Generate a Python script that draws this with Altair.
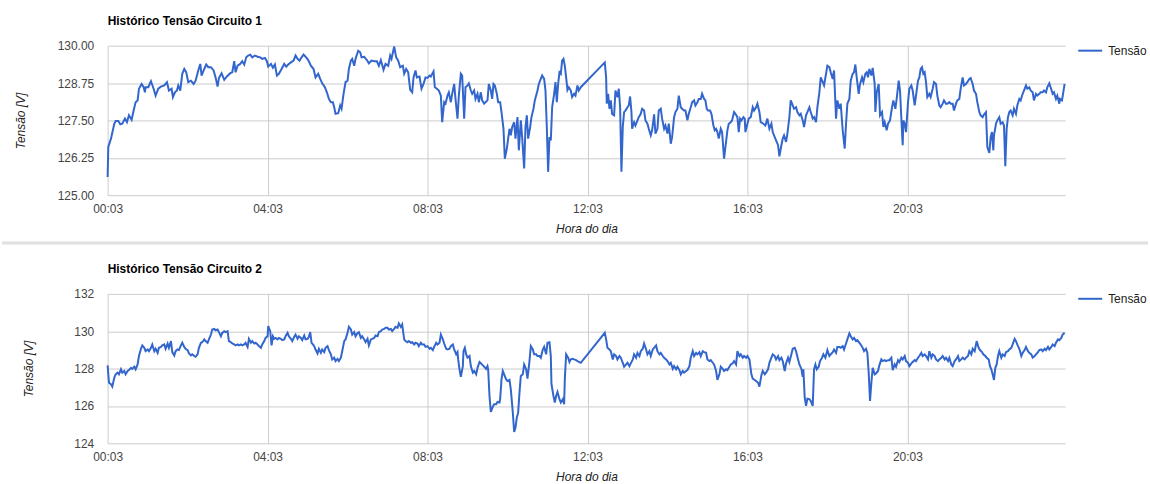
import altair as alt
import pandas as pd

# Minutes since midnight and measured voltage, circuit 1
HORA_C1 = [
    3, 4, 8, 13, 15, 19, 22, 25, 29, 32, 35, 39, 42, 45, 48, 50, 54, 57, 59, 60,
    64, 68, 72, 75, 79, 83, 88, 92, 95, 99, 101, 104, 107, 109, 112, 115, 118, 121, 124, 128,
    132, 135, 139, 142, 144, 148, 151, 154, 158, 162, 165, 168, 170, 174, 178, 182, 187, 190, 193, 195,
    198, 202, 205, 208, 211, 214, 217, 220, 224, 228, 232, 235, 239, 242, 244, 248, 251, 254, 257, 260,
    264, 268, 271, 274, 278, 282, 285, 288, 291, 294, 297, 300, 304, 308, 312, 315, 319, 322, 325, 329,
    332, 335, 338, 341, 343, 345, 349, 352, 354, 357, 360, 363, 365, 368, 370, 373, 375, 379, 382, 384,
    388, 392, 395, 399, 403, 407, 410, 413, 417, 420, 424, 427, 429, 433, 436, 439, 442, 446, 448, 451,
    454, 457, 460, 462, 465, 467, 471, 474, 477, 480,
    483, 486, 488, 492, 494, 497, 500, 503, 505, 508, 510, 513, 515, 518, 520, 523, 525, 528, 530, 533,
    535, 538, 540, 543, 545, 548, 550, 553, 555, 558, 560, 563, 565, 568, 570, 573, 575, 578, 580, 582,
    584, 587, 589, 592, 594, 597, 599, 602, 604, 606, 608, 610, 613, 615, 618, 620, 623, 625, 628, 630,
    632, 634, 637, 639, 642, 644, 646, 648, 650, 653, 655, 658, 660, 662, 664, 666, 668, 670, 673, 675,
    677, 679, 681, 683, 685, 687, 689, 691, 693, 695, 698, 700, 703, 705, 708, 710, 713,
    749, 751, 752, 754, 756, 758, 760, 763, 765, 768, 770, 772, 774, 776, 778, 780, 783, 785, 787, 789,
    790, 793, 795, 798, 800, 803, 805, 808, 810, 813, 815, 818, 820, 823, 825, 828, 830, 833, 835, 838,
    840, 843, 845, 848, 850, 853, 855, 858, 860, 863, 865, 868, 870, 873, 875, 878, 880, 883, 885, 888,
    890, 893, 895, 898, 900, 902, 904, 907, 909, 912, 914, 916, 918, 920, 923, 925, 928, 930, 933, 935,
    938, 940, 943, 945, 948, 950, 952, 954, 957, 959, 960, 963, 965, 968,
    971, 973, 976, 978, 981, 983, 987, 990, 993, 996, 999, 1001, 1004, 1006, 1009, 1011, 1014, 1016, 1018, 1021,
    1023, 1026, 1028, 1031, 1033, 1036, 1038, 1041, 1043, 1046, 1048, 1051, 1053, 1056, 1058, 1061, 1063, 1066, 1068, 1071,
    1073, 1076, 1078, 1081, 1083, 1086, 1088, 1091, 1093, 1096, 1098, 1101, 1103, 1106, 1109, 1111, 1113, 1116, 1118, 1121,
    1123, 1125, 1127, 1130, 1132, 1135, 1137, 1140, 1142, 1144, 1146, 1149, 1151, 1154, 1155, 1157, 1160, 1162, 1165, 1167,
    1169, 1172, 1174, 1177, 1180, 1182, 1185, 1187, 1190, 1192, 1194, 1196, 1197, 1199, 1201, 1204, 1206, 1209, 1211, 1214,
    1216, 1219, 1221, 1223, 1225, 1227, 1229, 1231, 1233, 1236, 1238, 1241, 1243, 1246, 1248, 1251, 1253, 1256, 1258, 1261,
    1263, 1266, 1268, 1271, 1273, 1276, 1278, 1281, 1283, 1286, 1288, 1291, 1293, 1296, 1298, 1301, 1303, 1306, 1308, 1311,
    1313, 1316, 1318, 1321, 1323, 1326, 1328, 1330, 1332, 1333, 1336, 1338, 1341, 1343, 1346, 1348, 1350, 1352, 1354, 1356,
    1358, 1361, 1363, 1366, 1368, 1371, 1373, 1376, 1378, 1381, 1383, 1386, 1388, 1391, 1393, 1396, 1398, 1401, 1403, 1406,
    1408, 1411, 1413, 1416, 1418, 1421, 1423, 1426, 1428, 1431, 1432, 1435, 1437, 1439,
]
TENSAO_C1 = [
    125.61, 126.61, 126.89, 127.39, 127.48, 127.48, 127.37, 127.39, 127.56, 127.44, 127.67, 127.52, 127.83, 128.11, 128.17, 128.56, 128.72, 128.61, 128.44, 128.61,
    128.61, 128.81, 128.56, 128.33, 128.56, 128.63, 128.67, 128.78, 128.50, 128.56, 128.28, 128.44, 128.50, 128.67, 128.50, 129.06, 129.22, 129.11, 128.78, 128.83,
    128.72, 128.83, 129.17, 129.39, 129.00, 129.22, 129.37, 129.28, 129.28, 129.17, 128.94, 128.63, 128.92, 129.08, 128.86, 128.97, 129.08, 129.11, 129.48, 129.11,
    129.33, 129.39, 129.48, 129.37, 129.61, 129.67, 129.70, 129.61, 129.67, 129.63, 129.61, 129.56, 129.59, 129.48, 129.30, 129.39, 129.26, 129.37, 129.00, 129.06,
    129.22, 129.39, 129.30, 129.37, 129.44, 129.50, 129.67, 129.56, 129.50, 129.61, 129.70, 129.63, 129.52, 129.33, 129.22, 128.94, 129.06, 128.89, 128.74, 128.61,
    128.44, 128.22, 128.11, 128.11, 127.94, 127.72, 127.74, 128.00, 127.89, 128.39, 128.78, 128.83, 129.22, 129.50, 129.56, 129.33, 129.56, 129.83, 129.78, 129.61,
    129.63, 129.52, 129.41, 129.50, 129.48, 129.48, 129.33, 129.52, 129.19, 129.39, 129.33, 129.67, 129.56, 129.97, 129.61, 129.50, 129.28, 129.33, 129.06, 129.22,
    129.11, 128.52, 128.44, 128.94, 129.17, 128.94, 128.97, 128.56, 128.72, 128.94,
    128.92, 129.00, 128.97, 129.14, 128.61, 128.56, 128.50, 128.33, 127.44, 128.11, 128.06, 128.33, 128.44, 128.11, 128.39, 128.72, 128.22, 127.56, 128.33, 129.06,
    129.00, 127.56, 128.61, 128.67, 128.74, 128.50, 128.39, 128.50, 128.22, 128.39, 128.11, 128.44, 128.17, 128.06, 128.11, 128.17, 128.72, 128.50, 128.22, 128.72,
    128.67, 128.39, 128.11, 128.11, 127.78, 127.22, 126.22, 126.56, 126.89, 127.22, 127.00, 127.28, 127.44, 126.89, 127.61, 126.50, 127.50, 126.94, 125.89, 127.28,
    127.67, 126.89, 127.28, 127.61, 127.89, 128.17, 128.33, 128.50, 128.72, 128.89, 129.00, 128.89, 128.50, 127.28, 125.78, 126.94, 126.83, 127.94, 128.39, 128.78,
    128.11, 128.72, 129.11, 129.06, 129.50, 129.56, 129.33, 128.94, 128.52, 128.61, 128.50, 128.28, 128.39, 128.33, 128.67, 128.50, 128.61,
    129.44, 128.94, 128.06, 128.39, 127.89, 128.17, 127.72, 127.67, 128.50, 128.28, 128.56, 127.94, 125.78, 127.28, 127.78, 127.83, 127.94, 128.00, 128.30, 127.78,
    127.22, 127.44, 127.33, 127.50, 127.61, 127.72, 127.89, 127.83, 127.50, 127.39, 127.22, 127.00, 127.17, 127.70, 127.06, 127.22, 127.83, 127.89, 127.56, 127.22,
    127.33, 127.06, 127.39, 126.72, 126.94, 127.61, 127.78, 127.89, 128.33, 127.94, 127.89, 127.83, 127.83, 127.50, 127.72, 127.94, 128.11, 128.17, 128.00, 128.11,
    128.22, 128.22, 128.39, 128.22, 128.17, 127.89, 127.83, 127.83, 127.72, 127.33, 127.17, 127.22, 127.11, 126.89, 127.22, 127.11, 126.22, 126.61, 127.17, 127.39,
    127.44, 127.50, 127.78, 127.72, 127.61, 127.11, 127.56, 127.50, 127.61, 127.56, 127.11, 127.39, 127.56, 127.61,
    127.94, 127.83, 127.94, 128.06, 127.78, 127.44, 127.39, 127.33, 127.56, 127.22, 127.39, 127.11, 126.94, 126.83, 126.67, 126.30, 126.67, 126.89, 127.00, 126.78,
    127.06, 127.61, 128.17, 128.00, 127.89, 127.94, 127.78, 127.67, 127.72, 127.50, 127.28, 127.67, 127.78, 127.94, 127.78, 127.56, 127.61, 127.44, 127.94, 128.44,
    128.94, 128.78, 128.67, 129.06, 129.33, 129.28, 129.11, 128.89, 129.17, 127.56, 128.17, 127.89, 128.06, 127.17, 126.56, 127.39, 128.06, 128.22, 128.83, 129.06,
    129.11, 129.37, 128.94, 128.39, 128.72, 128.94, 128.78, 129.06, 129.11, 128.94, 129.22, 129.00, 129.26, 128.72, 127.78, 128.44, 128.72, 127.67, 127.78, 127.28,
    127.44, 127.17, 127.39, 127.50, 127.94, 128.17, 127.89, 128.22, 128.83, 128.50, 127.56, 126.67, 127.50, 127.39, 127.11, 128.11, 128.56, 128.67, 128.50, 128.00,
    128.33, 128.83, 128.94, 129.22, 129.28, 129.06, 129.11, 128.78, 128.28, 128.39, 128.28, 128.56, 128.78, 128.72, 128.33, 128.00, 127.94, 128.06, 128.17, 128.06,
    128.06, 128.11, 128.06, 128.06, 127.83, 128.06, 128.17, 128.22, 128.56, 128.94, 128.67, 128.72, 128.78, 128.89, 128.92, 128.72, 128.50, 128.39, 128.11, 127.78,
    127.67, 127.61, 127.70, 127.78, 126.61, 126.41, 126.94, 127.11, 126.50, 127.00, 127.39, 127.50, 127.61, 127.39, 127.44, 127.33, 125.97, 127.22, 127.61, 127.78,
    127.83, 127.67, 127.89, 127.72, 128.00, 128.22, 128.17, 128.39, 128.50, 128.67, 128.56, 128.61, 128.50, 128.44, 128.17, 128.39, 128.33, 128.39, 128.44, 128.44,
    128.50, 128.44, 128.61, 128.74, 128.61, 128.39, 128.44, 128.22, 128.33, 128.06, 128.22, 128.17, 128.44, 128.72,
]

# Minutes since midnight and measured voltage, circuit 2
HORA_C2 = [
    3, 5, 8, 10, 13, 15, 18, 20, 23, 25, 28, 30, 33, 35, 38, 40, 43, 45, 48, 50,
    53, 55, 58, 60, 63, 65, 68, 70, 73, 75, 78, 80, 83, 85, 88, 90, 93, 95, 98, 100,
    103, 105, 108, 110, 113, 115, 118, 120, 123, 125, 128, 130, 133, 135, 138, 140, 143, 145, 148, 150,
    153, 155, 158, 160, 163, 165, 168, 170, 173, 175, 178, 180, 183, 185, 188, 190, 193, 195, 198, 200,
    203, 205, 208, 210, 213, 215, 218, 220, 223, 225, 228, 230, 233, 235, 238, 240, 243, 244, 247, 249,
    251, 253, 255, 258, 260, 263, 265, 268, 270, 273, 275, 278, 280, 283, 285, 288, 290, 293, 295, 298,
    300, 303, 305, 307, 309, 311, 313, 315, 318, 320, 323, 325, 328, 330, 333, 335, 338, 340, 343, 345,
    348, 350, 353, 355, 358, 360, 363, 365, 368, 370, 373, 375, 378, 380, 383, 385, 388, 390, 393, 395,
    398, 400, 403, 405, 408, 410, 413, 415, 418, 420, 423, 425, 428, 430, 433, 435, 438, 440, 443, 445,
    448, 450, 453, 455, 458, 460, 463, 465, 468, 470, 473, 475, 478, 480,
    483, 486, 488, 491, 493, 496, 498, 501, 503, 506, 508, 511, 513, 516, 518, 521, 523, 526, 528, 529,
    531, 533, 536, 537, 539, 541, 543, 546, 548, 551, 553, 556, 558, 561, 563, 566, 568, 571, 573, 574,
    576, 578, 581, 583, 586, 588, 591, 592, 594, 596, 598, 601, 603, 606, 608, 611, 613, 615, 617, 619,
    621, 623, 626, 628, 631, 633, 636, 638, 641, 643, 646, 648, 651, 653, 656, 658, 661, 663, 666, 668,
    669, 672, 674, 676, 678, 681, 683, 686, 688, 689, 691, 694, 696, 698, 701, 703, 706, 708, 711, 713,
    749, 751, 753, 756, 758, 761, 763, 766, 768, 771, 773, 776, 778, 781, 783, 786, 788, 791, 793, 796,
    798, 801, 803, 806, 808, 811, 813, 816, 818, 821, 823, 826, 828, 831, 833, 836, 838, 841, 843, 846,
    848, 851, 853, 856, 858, 861, 863, 866, 868, 871, 873, 876, 878, 881, 883, 886, 888, 891, 893, 896,
    898, 901, 903, 906, 908, 911, 913, 916, 918, 921, 923, 926, 928, 931, 933, 936, 938, 941, 943, 946,
    948, 951, 953, 956, 958, 961, 963, 966, 969,
    971, 974, 976, 979, 981, 984, 986, 989, 991, 994, 996, 999, 1001, 1004, 1006, 1009, 1011, 1014, 1016, 1019,
    1021, 1024, 1026, 1029, 1031, 1034, 1036, 1039, 1041, 1044, 1046, 1047, 1049, 1051, 1053, 1056, 1058, 1061, 1063, 1065,
    1067, 1070, 1072, 1075, 1077, 1080, 1082, 1083, 1086, 1088, 1091, 1093, 1096, 1098, 1101, 1103, 1106, 1108, 1111, 1113,
    1116, 1118, 1121, 1123, 1126, 1128, 1131, 1133, 1136, 1138, 1141, 1143, 1145, 1147, 1149, 1151, 1154, 1156, 1159, 1161,
    1164, 1166, 1169, 1171, 1174, 1176, 1179, 1181, 1184, 1186, 1189, 1191, 1194, 1196, 1199, 1201, 1204, 1206, 1209, 1211,
    1214, 1216, 1219, 1221, 1224, 1226, 1229, 1231, 1234, 1236, 1239, 1241, 1244, 1246, 1249, 1251, 1254, 1256, 1259, 1261,
    1264, 1266, 1269, 1271, 1274, 1276, 1279, 1281, 1284, 1286, 1289, 1291, 1294, 1296, 1299, 1301, 1304, 1306, 1307, 1310,
    1312, 1315, 1317, 1320, 1322, 1325, 1327, 1329, 1331, 1333, 1335, 1337, 1339, 1341, 1344, 1346, 1349, 1351, 1354, 1356,
    1359, 1361, 1364, 1366, 1369, 1371, 1374, 1376, 1379, 1381, 1384, 1386, 1389, 1391, 1394, 1396, 1399, 1401, 1404, 1406,
    1409, 1411, 1414, 1416, 1419, 1421, 1424, 1426, 1429, 1431, 1434, 1436, 1439,
]
TENSAO_C2 = [
    128.17, 127.24, 127.16, 127.04, 127.51, 127.69, 127.78, 127.69, 127.96, 127.78, 127.87, 127.69, 127.87, 127.92, 128.04, 127.98, 128.10, 127.96, 128.22, 128.67,
    129.06, 129.24, 129.11, 128.93, 129.02, 128.93, 129.11, 129.29, 128.93, 129.06, 128.84, 129.11, 129.16, 129.24, 129.29, 129.06, 129.34, 129.11, 129.47, 128.88,
    128.70, 128.93, 129.02, 128.99, 129.24, 129.38, 129.16, 129.06, 128.99, 128.81, 128.70, 128.76, 128.67, 128.63, 128.76, 129.11, 129.38, 129.41, 129.56, 129.47,
    129.38, 129.56, 129.82, 130.09, 130.12, 130.05, 130.09, 129.95, 129.73, 129.91, 130.00, 129.95, 130.00, 129.47, 129.41, 129.34, 129.29, 129.24, 129.29, 129.24,
    129.29, 129.24, 129.29, 129.38, 129.16, 129.59, 129.38, 129.47, 129.34, 129.38, 129.29, 129.20, 129.11, 129.29, 129.47, 129.64, 129.73, 130.27, 130.00, 129.24,
    129.73, 129.59, 129.64, 129.56, 129.64, 129.59, 129.52, 129.56, 129.73, 129.91, 129.73, 129.59, 129.47, 129.70, 129.82, 129.59, 129.73, 129.64, 129.52, 129.77,
    129.56, 129.59, 129.70, 129.95, 129.38, 129.29, 129.20, 129.02, 128.81, 129.06, 128.84, 129.02, 128.88, 129.11, 129.20, 128.99, 128.76, 128.49, 128.58, 128.40,
    128.52, 128.40, 128.58, 128.93, 129.47, 129.56, 129.91, 130.23, 130.09, 129.82, 129.95, 129.73, 129.91, 129.95, 129.64, 129.73, 129.56, 129.41, 129.59, 129.24,
    129.56, 129.59, 129.64, 129.77, 129.73, 129.95, 130.00, 130.09, 130.12, 130.18, 130.18, 130.09, 130.12, 130.00, 130.12, 130.23, 130.18, 130.41, 130.23, 130.36,
    129.56, 129.47, 129.41, 129.47, 129.38, 129.41, 129.29, 129.38, 129.34, 129.20, 129.38, 129.29, 129.29, 129.16,
    129.20, 129.06, 129.11, 128.99, 129.16, 129.38, 129.29, 129.38, 129.82, 129.56, 129.34, 129.06, 129.02, 129.06, 129.20, 129.29, 129.02, 128.76, 128.88, 128.49,
    127.96, 127.56, 128.13, 128.93, 129.11, 128.76, 128.58, 128.67, 128.13, 127.78, 127.87, 127.69, 128.04, 128.35, 128.28, 128.17, 128.10, 127.98, 128.13, 127.96,
    126.53, 125.68, 125.96, 126.09, 126.09, 126.21, 126.18, 126.36, 127.42, 127.87, 127.69, 127.42, 127.33, 127.39, 126.89, 125.64, 124.61, 124.84, 125.38, 125.64,
    126.71, 127.60, 127.69, 128.22, 127.96, 127.46, 128.40, 129.20, 129.02, 128.76, 128.76, 128.67, 128.67, 128.58, 129.02, 129.16, 128.76, 129.38, 129.41, 128.67,
    127.16, 126.53, 126.18, 126.53, 126.75, 126.36, 126.18, 126.36, 126.09, 127.42, 128.76, 128.58, 128.35, 128.49, 128.52, 128.49, 128.45, 128.40, 128.35, 128.31,
    129.91, 129.56, 129.11, 129.02, 128.93, 128.49, 128.76, 128.67, 128.49, 128.67, 128.58, 128.31, 128.10, 128.22, 128.31, 128.13, 128.28, 128.49, 128.76, 128.58,
    128.84, 128.67, 128.93, 129.06, 129.34, 129.02, 128.76, 128.93, 128.67, 129.02, 129.11, 129.24, 128.93, 128.76, 128.84, 128.67, 128.58, 128.49, 128.40, 128.22,
    128.31, 127.98, 128.13, 127.96, 128.10, 127.92, 127.69, 127.87, 127.78, 127.87, 127.92, 128.13, 128.58, 128.93, 128.67, 128.84, 128.76, 128.88, 128.67, 128.93,
    128.88, 128.84, 128.49, 128.40, 128.45, 128.31, 128.22, 127.87, 127.39, 127.69, 128.10, 127.98, 127.87, 127.96, 127.92, 128.10, 128.22, 128.28, 128.40, 128.22,
    128.93, 128.67, 128.76, 128.58, 128.67, 128.58, 128.67, 128.49, 127.69,
    127.46, 127.39, 127.33, 127.24, 127.03, 127.64, 127.87, 127.69, 127.78, 127.96, 128.31, 128.58, 128.76, 128.67, 128.49, 128.67, 128.45, 128.58, 128.40, 127.87,
    128.28, 128.58, 128.35, 128.76, 129.06, 129.11, 128.93, 128.49, 128.22, 127.98, 127.56, 127.96, 126.44, 126.00, 126.39, 126.36, 126.27, 126.00, 127.96, 128.22,
    127.96, 128.10, 128.40, 128.58, 128.76, 128.58, 128.84, 128.99, 128.67, 128.76, 128.88, 129.02, 128.84, 129.16, 129.16, 129.11, 129.20, 129.02, 129.34, 129.56,
    129.88, 129.73, 129.56, 129.64, 129.47, 129.52, 129.38, 129.29, 129.11, 128.93, 129.06, 128.84, 127.78, 126.27, 127.24, 128.04, 127.69, 127.74, 127.87, 128.17,
    128.49, 128.40, 128.45, 128.40, 128.45, 128.45, 128.58, 127.92, 128.22, 128.10, 128.45, 128.35, 128.58, 128.49, 128.67, 128.40, 128.31, 128.13, 128.28, 128.35,
    128.45, 128.40, 128.58, 128.67, 128.84, 128.67, 128.76, 128.67, 128.49, 128.93, 128.58, 128.76, 128.67, 128.49, 128.40, 128.49, 128.58, 128.67, 128.49, 128.58,
    128.40, 128.58, 128.22, 128.13, 128.40, 128.49, 128.67, 128.40, 128.49, 128.58, 128.49, 128.58, 128.67, 128.93, 128.76, 129.06, 128.93, 129.29, 129.47, 129.11,
    128.99, 128.88, 128.76, 128.67, 128.58, 128.49, 128.13, 127.96, 127.69, 127.39, 128.04, 128.22, 128.67, 128.93, 128.58, 128.76, 128.67, 128.88, 128.93, 129.02,
    129.11, 129.29, 129.59, 129.47, 129.20, 129.06, 128.67, 128.84, 128.99, 129.16, 128.93, 128.84, 128.76, 128.58, 128.67, 128.76, 128.88, 128.99, 129.02, 128.93,
    129.06, 128.99, 129.16, 129.02, 129.16, 129.29, 129.20, 129.38, 129.56, 129.52, 129.64, 129.82, 129.91,
]

TICKS_HORA = [3, 243, 483, 723, 963, 1203]
TICKS_C1 = [125, 126.25, 127.5, 128.75, 130]
TICKS_C2 = [124, 126, 128, 130, 132]
SERIE = "Tensão"

FONTE = "Arial, Liberation Sans, sans-serif"
AZUL = "#3366cc"
LARGURA = 961
ALTURA = 150


def painel(horas, tensoes, titulo, dominio, ticks, formato, titulo_x):
    df = pd.DataFrame({"hora": horas, "tensao": tensoes, "serie": SERIE})
    return (
        alt.Chart(df)
        .mark_line(strokeWidth=2, color=AZUL)
        .encode(
            x=alt.X(
                "hora:Q",
                scale=alt.Scale(domain=[3, 1440], nice=False, zero=False),
                axis=alt.Axis(
                    values=TICKS_HORA,
                    labelExpr="timeFormat(datetime(2000, 0, 1, 0, datum.value), '%H:%M')",
                    title="Hora do dia",
                ),
            ),
            y=alt.Y(
                "tensao:Q",
                scale=alt.Scale(domain=dominio, nice=False, zero=False),
                axis=alt.Axis(
                    values=ticks,
                    format=formato,
                    title="Tensão [V]",
                    titleX=titulo_x,
                    titleBaseline="middle",
                ),
            ),
            color=alt.Color(
                "serie:N",
                scale=alt.Scale(domain=[SERIE], range=[AZUL]),
                legend=alt.Legend(
                    title=None,
                    orient="none",
                    legendX=973,
                    legendY=-8,
                ),
            ),
        )
        .properties(
            width=LARGURA,
            height=ALTURA,
            title=alt.TitleParams(
                titulo,
                anchor="start",
                frame="group",
                font=FONTE,
                fontSize=12,
                fontWeight="bold",
                color="#000000",
                offset=10,
            ),
        )
    )


# thin divider under the first panel, spanning the full page width
divisor = (
    alt.Chart(pd.DataFrame({"d": [0]}))
    .mark_rule(color="#e0e0e0", strokeWidth=3)
    .encode(x=alt.value(-106), x2=alt.value(1044), y=alt.value(198))
)

topo = alt.layer(
    painel(HORA_C1, TENSAO_C1, "Histórico Tensão Circuito 1",
           [125, 130], TICKS_C1, ".2f", -87.5),
    divisor,
)
base = painel(HORA_C2, TENSAO_C2, "Histórico Tensão Circuito 2",
              [124, 132], TICKS_C2, "d", -79)

chart = (
    alt.vconcat(topo, base, spacing=99, bounds="flush")
    .resolve_scale(color="independent")
    .properties(padding={"left": 0, "top": 14, "right": 0, "bottom": 0})
    .configure_view(stroke=None)
    .configure_axis(
        grid=True,
        gridColor="#cccccc",
        gridWidth=1,
        domain=False,
        ticks=False,
        labelFlush=False,
        labelFont=FONTE,
        labelFontSize=12,
        labelColor="#444444",
        titleFont=FONTE,
        titleFontSize=12,
        titleFontStyle="italic",
        titleFontWeight="normal",
        titleColor="#222222",
    )
    .configure_axisX(labelPadding=8, titlePadding=9)
    .configure_axisY(labelPadding=14)
    .configure_legend(
        symbolType="stroke",
        symbolStrokeWidth=2,
        symbolSize=576,
        labelFont=FONTE,
        labelFontSize=12,
        labelColor="#222222",
        labelOffset=5,
        padding=0,
    )
)

chart.save("out.html", embed_options={"renderer": "svg", "actions": False})
